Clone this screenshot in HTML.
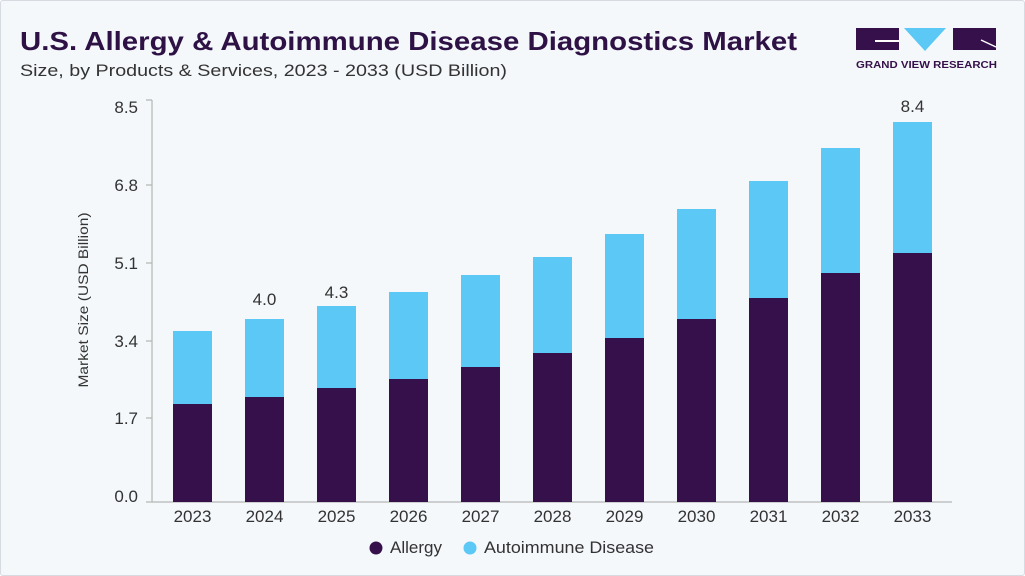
<!DOCTYPE html>
<html><head><style>
body{margin:0;background:#fff;}
.c{position:relative;width:1023px;height:574px;border:1px solid #d6dbe2;background:#f4f8fb;font-family:"Liberation Sans",sans-serif;overflow:hidden;border-radius:3px}
</style></head><body><div class="c">
<svg width="1025" height="576" style="position:absolute;left:-1px;top:-1px" font-family="Liberation Sans, sans-serif">
<text x="20" y="50" font-size="26" font-weight="bold" fill="#2e1245" textLength="777" lengthAdjust="spacingAndGlyphs">U.S. Allergy &amp; Autoimmune Disease Diagnostics Market</text>
<text x="20" y="76" font-size="17" fill="#333" textLength="487" lengthAdjust="spacingAndGlyphs">Size, by Products &amp; Services, 2023 - 2033 (USD Billion)</text>
<rect x="856" y="28" width="43" height="22" fill="#36104a"/>
<rect x="875" y="40" width="24" height="2" fill="#fff"/>
<polygon points="904,28 946,28 925,51" fill="#5bc8f5"/>
<rect x="953" y="28" width="43" height="22" fill="#36104a"/>
<line x1="981" y1="40" x2="996" y2="47" stroke="#fff" stroke-width="1.5"/>
<text x="856" y="68" font-size="10.5" font-weight="bold" fill="#36104a" textLength="141" lengthAdjust="spacingAndGlyphs">GRAND VIEW RESEARCH</text>
<g stroke="#b5b5b5" stroke-width="1.2" fill="none">
<line x1="152" y1="100" x2="152" y2="502"/><line x1="152" y1="502" x2="952" y2="502"/>
<line x1="146" y1="100" x2="152" y2="100"/><line x1="146" y1="185" x2="152" y2="185"/><line x1="146" y1="263" x2="152" y2="263"/><line x1="146" y1="341" x2="152" y2="341"/><line x1="146" y1="418" x2="152" y2="418"/><line x1="146" y1="502" x2="152" y2="502"/>
</g>
<g font-size="17" fill="#333" text-anchor="end">
<text x="138" y="113">8.5</text><text x="138" y="191">6.8</text><text x="138" y="269">5.1</text><text x="138" y="347">3.4</text><text x="138" y="424">1.7</text><text x="138" y="502">0.0</text>
</g>
<text transform="translate(88,300) rotate(-90)" font-size="14" fill="#333" text-anchor="middle" textLength="175" lengthAdjust="spacingAndGlyphs">Market Size (USD Billion)</text>
<g fill="#5bc8f5">
<rect x="173" y="331" width="39" height="73"/><rect x="245" y="319" width="39" height="78"/><rect x="317" y="306" width="39" height="82"/><rect x="389" y="292" width="39" height="87"/><rect x="461" y="275" width="39" height="92"/><rect x="533" y="257" width="39" height="96"/><rect x="605" y="234" width="39" height="104"/><rect x="677" y="209" width="39" height="110"/><rect x="749" y="181" width="39" height="117"/><rect x="821" y="148" width="39" height="125"/><rect x="893" y="122" width="39" height="131"/>
</g>
<g fill="#36104a">
<rect x="173" y="404" width="39" height="98"/><rect x="245" y="397" width="39" height="105"/><rect x="317" y="388" width="39" height="114"/><rect x="389" y="379" width="39" height="123"/><rect x="461" y="367" width="39" height="135"/><rect x="533" y="353" width="39" height="149"/><rect x="605" y="338" width="39" height="164"/><rect x="677" y="319" width="39" height="183"/><rect x="749" y="298" width="39" height="204"/><rect x="821" y="273" width="39" height="229"/><rect x="893" y="253" width="39" height="249"/>
</g>
<g font-size="17" fill="#333" text-anchor="middle">
<text x="264.5" y="305">4.0</text><text x="336.5" y="298">4.3</text><text x="912.5" y="112">8.4</text>
<text x="192.5" y="522">2023</text><text x="264.5" y="522">2024</text><text x="336.5" y="522">2025</text><text x="408.5" y="522">2026</text><text x="480.5" y="522">2027</text><text x="552.5" y="522">2028</text><text x="624.5" y="522">2029</text><text x="696.5" y="522">2030</text><text x="768.5" y="522">2031</text><text x="840.5" y="522">2032</text><text x="912.5" y="522">2033</text>
</g>
<circle cx="376" cy="548" r="6.5" fill="#36104a"/>
<text x="390" y="553" font-size="17" fill="#333" textLength="52" lengthAdjust="spacingAndGlyphs">Allergy</text>
<circle cx="470" cy="548" r="6.5" fill="#5bc8f5"/>
<text x="484" y="553" font-size="17" fill="#333" textLength="170" lengthAdjust="spacingAndGlyphs">Autoimmune Disease</text>
</svg>
</div></body></html>
